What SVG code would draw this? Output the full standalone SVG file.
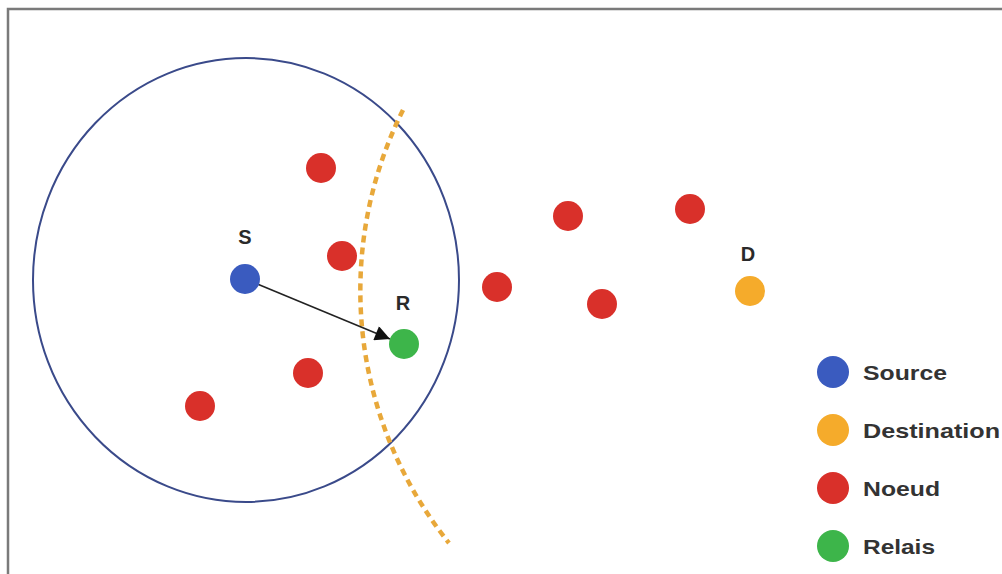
<svg xmlns="http://www.w3.org/2000/svg" width="1002" height="574" viewBox="0 0 1002 574">
<defs>
<style>
.lbl{font-family:"Liberation Sans",Arial,sans-serif;font-weight:bold;font-size:20px;fill:#2a2a2a;text-anchor:middle}
.leg{font-family:"Liberation Sans",Arial,sans-serif;font-weight:bold;font-size:21px;fill:#333}
.src{fill:#3a5bbf}
.dst{fill:#f5ab2b}
.nod{fill:#d9302a}
.rel{fill:#3db54a}
</style>
<marker id="ah" viewBox="0 0 10 10" refX="10" refY="5" markerWidth="22" markerHeight="15" markerUnits="userSpaceOnUse" orient="auto">
<path d="M0,0 L10,5 L0,10 Z" fill="#111"/>
</marker>
</defs>
<rect x="0" y="0" width="1002" height="574" fill="#ffffff"/>
<path d="M8,574 L8,9 L1002,9" fill="none" stroke="#7a7a7a" stroke-width="2.5"/>
<g id="range">
<ellipse cx="246" cy="280" rx="213" ry="222" fill="none" stroke="#3a4a8a" stroke-width="2"/>
</g>
<g id="dest-range">
<path d="M403,110 A403.6,403.6 0 0 0 449,543" fill="none" stroke="#e8a83a" stroke-width="4.5" stroke-dasharray="7 5"/>
</g>
<g id="connectors">
<line x1="245" y1="279" x2="390" y2="339" stroke="#222" stroke-width="1.6" marker-end="url(#ah)"/>
</g>
<g id="S"><circle class="src" cx="245" cy="279" r="15"/><text class="lbl" x="245" y="244">S</text></g>
<g id="R"><circle class="rel" cx="404" cy="344" r="15"/><text class="lbl" x="403" y="310">R</text></g>
<g id="D"><circle class="dst" cx="750" cy="291" r="15"/><text class="lbl" x="748" y="261">D</text></g>
<g id="n1"><circle class="nod" cx="321" cy="168" r="15"/></g>
<g id="n2"><circle class="nod" cx="342" cy="256" r="15"/></g>
<g id="n3"><circle class="nod" cx="308" cy="373" r="15"/></g>
<g id="n4"><circle class="nod" cx="200" cy="406" r="15"/></g>
<g id="n5"><circle class="nod" cx="568" cy="216" r="15"/></g>
<g id="n6"><circle class="nod" cx="690" cy="209" r="15"/></g>
<g id="n7"><circle class="nod" cx="497" cy="287" r="15"/></g>
<g id="n8"><circle class="nod" cx="602" cy="304" r="15"/></g>
<g id="legend">
<circle class="src" cx="833" cy="372" r="16"/><text class="leg" x="863" y="380" textLength="84" lengthAdjust="spacingAndGlyphs">Source</text>
<circle class="dst" cx="833" cy="430" r="16"/><text class="leg" x="863" y="438" textLength="137" lengthAdjust="spacingAndGlyphs">Destination</text>
<circle class="nod" cx="833" cy="488" r="16"/><text class="leg" x="863" y="496" textLength="77" lengthAdjust="spacingAndGlyphs">Noeud</text>
<circle class="rel" cx="833" cy="546" r="16"/><text class="leg" x="863" y="554" textLength="72" lengthAdjust="spacingAndGlyphs">Relais</text>
</g>
</svg>
